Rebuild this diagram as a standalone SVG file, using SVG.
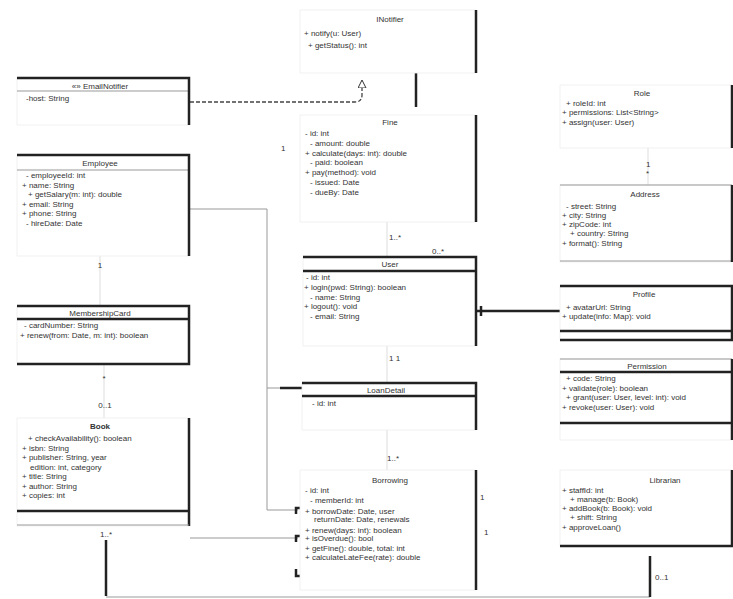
<svg xmlns="http://www.w3.org/2000/svg" width="733" height="599" viewBox="0 0 733 599">
<style>
.t{font-family:"Liberation Sans",Arial,sans-serif;font-size:8px;fill:#333}
.c{text-anchor:middle}
.b{font-weight:bold}
.box{fill:#fff;stroke:#eee;stroke-width:0.8}
.k{stroke:#222;stroke-width:2.5;fill:none}
.s{stroke:#999;stroke-width:1;fill:none}
.f{stroke:#ddd;stroke-width:1;fill:none}
.d{stroke:#444;stroke-width:1.3;fill:none;stroke-dasharray:4 2}
</style>
<defs>
<marker id="tri" markerWidth="10" markerHeight="10" refX="8" refY="4" orient="auto" markerUnits="userSpaceOnUse">
<path d="M0,0 L8,4 L0,8 Z" fill="#fff" stroke="#333" stroke-width="1"/>
</marker>
</defs>

<g id="connectors">
<path class="d" d="M190,102 H355 Q362,102 362,95 V80" marker-end="url(#tri)"/>
<path class="k" d="M416,73 V107"/>
<path class="s" d="M190,209 H267 V510 H298"/>
<path class="k" d="M280,388 H302"/>
<path class="s" d="M267,388 H280"/>
<path class="s" d="M190,538 H298"/>
<path class="k" d="M296,514 V508 H302 M296,542 V536 H302 M296,569 V576 H302"/>
<path class="k" d="M476,311 H560"/>
<path class="k" d="M481,306 V316"/>
<path class="f" d="M387,222 V257 M387,346 V383 M387,430 V470"/>
<path class="f" d="M100,256 V306 M104,364 V418 M648,148 V185"/>
<path class="k" d="M106,540 V596"/>
<path class="s" d="M106,597 H650"/>
<path class="k" d="M650,597 V556"/>
<text class="t c" x="100" y="268">1</text>
<text class="t c" x="104" y="381">*</text>
<text class="t c" x="105" y="408">0..1</text>
<text class="t c" x="106" y="537">1..*</text>
<text class="t" x="655" y="580">0..1</text>
<text class="t" x="281" y="151">1</text>
<text class="t" x="389" y="240">1..*</text>
<text class="t" x="432" y="254">0..*</text>
<text class="t" x="389" y="361">1  1</text>
<text class="t" x="387" y="461">1..*</text>
<text class="t" x="480" y="500">1</text>
<text class="t" x="484" y="535">1</text>
<text class="t" x="646" y="167">1</text>
<text class="t" x="646" y="176">*</text>
</g>

<g id="EmailNotifier">
<rect class="box" x="17" y="78" width="172" height="47"/>
<path class="s" d="M17,91 H188"/>
<path class="k" d="M17,78 H189 V125"/>
<text class="t c" x="100" y="89">«» EmailNotifier</text>
<text class="t" x="26" y="101">-host: String</text>
</g>

<g id="Employee">
<rect class="box" x="17" y="155" width="172" height="101"/>
<path class="s" d="M17,170 H188"/>
<path class="k" d="M17,155 H189 V256"/>
<text class="t c" x="100" y="166">Employee</text>
<text class="t" x="26" y="178">- employeeId: int</text>
<text class="t" x="22" y="187.5">+ name: String</text>
<text class="t" x="28" y="197">+ getSalary(m: int): double</text>
<text class="t" x="22" y="206.5">+ email: String</text>
<text class="t" x="22" y="216">+ phone: String</text>
<text class="t" x="26" y="225.5">- hireDate: Date</text>
</g>

<g id="MembershipCard">
<rect class="box" x="17" y="306" width="172" height="58"/>
<path class="k" d="M17,306 H189 V364 H17 M17,319 H189"/>
<text class="t c" x="100" y="316">MembershipCard</text>
<text class="t" x="24" y="328">- cardNumber: String</text>
<text class="t" x="20" y="338">+ renew(from: Date, m: int): boolean</text>
</g>

<g id="Book">
<rect class="box" x="17" y="418" width="172" height="108"/>
<path class="k" d="M17,511 H189 M189,418 V526"/>
<path class="s" d="M17,525 H189"/>
<text class="t c b" x="100" y="429">Book</text>
<text class="t" x="28" y="441">+ checkAvailability(): boolean</text>
<text class="t" x="22" y="450.5">+ isbn: String</text>
<text class="t" x="22" y="460">+ publisher: String, year</text>
<text class="t" x="30" y="469.5">edition: int, category</text>
<text class="t" x="22" y="479">+ title: String</text>
<text class="t" x="22" y="488.5">+ author: String</text>
<text class="t" x="22" y="498">+ copies: int</text>
</g>

<g id="INotifier">
<rect class="box" x="300" y="10" width="176" height="63" stroke="#f6f6f6"/>
<path class="k" d="M476,10 V73"/>
<text class="t c" x="390" y="22">INotifier</text>
<text class="t" x="304" y="36">+ notify(u: User)</text>
<text class="t" x="308" y="48">+ getStatus(): int</text>
</g>

<g id="Fine">
<rect class="box" x="300" y="115" width="176" height="107" stroke="#f6f6f6"/>
<path class="k" d="M476,115 V222"/>
<text class="t c" x="390" y="125">Fine</text>
<text class="t" x="305" y="136">- id: int</text>
<text class="t" x="310" y="146">- amount: double</text>
<text class="t" x="305" y="156">+ calculate(days: int): double</text>
<text class="t" x="310" y="165">- paid: boolean</text>
<text class="t" x="305" y="175">+ pay(method): void</text>
<text class="t" x="310" y="185">- issued: Date</text>
<text class="t" x="310" y="195">- dueBy: Date</text>
</g>

<g id="User">
<rect class="box" x="303" y="257" width="173" height="89"/>
<path class="k" d="M303,257 H476 V346 M303,271 H476"/>
<text class="t c" x="390" y="267">User</text>
<text class="t" x="306" y="280">- id: int</text>
<text class="t" x="304" y="290">+ login(pwd: String): boolean</text>
<text class="t" x="310" y="300">- name: String</text>
<text class="t" x="304" y="309">+ logout(): void</text>
<text class="t" x="310" y="319">- email: String</text>
</g>

<g id="LoanDetail">
<rect class="box" x="302" y="383" width="174" height="47"/>
<path class="k" d="M302,383 H476 V430 M302,396 H476"/>
<text class="t c" x="386" y="393">LoanDetail</text>
<text class="t" x="312" y="406">- id: int</text>
</g>

<g id="Borrowing">
<rect class="box" x="300" y="470" width="176" height="120" stroke="#f6f6f6"/>
<path class="k" d="M476,470 V590"/>
<text class="t c" x="390" y="483">Borrowing</text>
<text class="t" x="305" y="493">- id: int</text>
<text class="t" x="310" y="503">- memberId: int</text>
<text class="t" x="305" y="514">+ borrowDate: Date, user</text>
<text class="t" x="314" y="522">returnDate: Date, renewals</text>
<text class="t" x="305" y="533">+ renew(days: int): boolean</text>
<text class="t" x="305" y="541">+ isOverdue(): bool</text>
<text class="t" x="305" y="551">+ getFine(): double, total: int</text>
<text class="t" x="305" y="560">+ calculateLateFee(rate): double</text>
</g>

<g id="Role">
<rect class="box" x="560" y="85" width="172" height="63" stroke="#f6f6f6"/>
<path class="k" d="M732,85 V148"/>
<text class="t c" x="642" y="96">Role</text>
<text class="t" x="566" y="106">+ roleId: int</text>
<text class="t" x="562" y="115">+ permissions: List&lt;String&gt;</text>
<text class="t" x="562" y="124.5">+ assign(user: User)</text>
</g>

<g id="Address">
<rect class="box" x="560" y="185" width="172" height="77"/>
<path class="s" d="M560,185 H732 M560,261 H732"/>
<path class="k" d="M732,185 V262"/>
<text class="t c" x="645" y="197">Address</text>
<text class="t" x="566" y="209">- street: String</text>
<text class="t" x="562" y="218">+ city: String</text>
<text class="t" x="562" y="227">+ zipCode: int</text>
<text class="t" x="570" y="236">+ country: String</text>
<text class="t" x="562" y="246">+ format(): String</text>
</g>

<g id="Profile">
<rect class="box" x="560" y="286" width="172" height="54"/>
<path class="k" d="M560,286 H732 V340 H560 M560,331 H732"/>
<text class="t c" x="644" y="297">Profile</text>
<text class="t" x="566" y="310">+ avatarUrl: String</text>
<text class="t" x="562" y="319">+ update(info: Map): void</text>
</g>

<g id="Permission">
<rect class="box" x="560" y="359" width="172" height="81"/>
<path class="s" d="M560,359 H732"/>
<path class="k" d="M560,372 H732 M560,423 H732 M732,359 V440"/>
<text class="t c" x="647" y="369">Permission</text>
<text class="t" x="566" y="381">+ code: String</text>
<text class="t" x="562" y="391">+ validate(role): boolean</text>
<text class="t" x="566" y="400">+ grant(user: User, level: int): void</text>
<text class="t" x="562" y="410">+ revoke(user: User): void</text>
</g>

<g id="Librarian">
<rect class="box" x="560" y="470" width="172" height="76" stroke="#f6f6f6"/>
<path class="k" d="M560,546 H732 V470"/>
<text class="t c" x="665" y="483">Librarian</text>
<text class="t" x="562" y="493">+ staffId: int</text>
<text class="t" x="570" y="502">+ manage(b: Book)</text>
<text class="t" x="562" y="511">+ addBook(b: Book): void</text>
<text class="t" x="570" y="520">+ shift: String</text>
<text class="t" x="562" y="530">+ approveLoan()</text>
</g>
</svg>
